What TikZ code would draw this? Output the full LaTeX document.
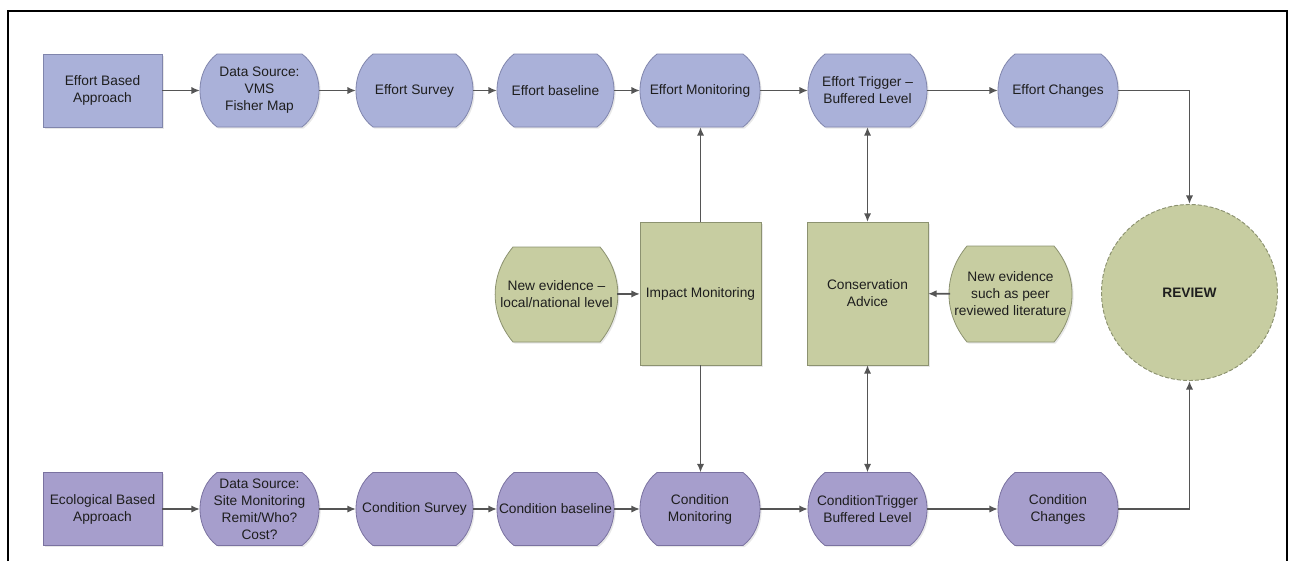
\documentclass[tikz,border=0pt]{standalone}
\usepackage{fontspec}
\setmainfont{Liberation Sans}
\usetikzlibrary{arrows.meta,backgrounds,calc,shadows}
\definecolor{topfill}{RGB}{170,177,217}
\definecolor{topline}{RGB}{128,133,172}
\definecolor{botfill}{RGB}{166,158,204}
\definecolor{botline}{RGB}{122,114,160}
\definecolor{grnfill}{RGB}{199,205,161}
\definecolor{grnline}{RGB}{140,146,112}
\definecolor{connc}{RGB}{85,85,85}
\definecolor{txtc}{RGB}{30,30,30}
\newcommand{\pillbg}[5]{%
  \path[fill=#2,draw=#3,line width=0.6pt,line join=round,drop shadow={opacity=0.18,shadow xshift=1.2pt,shadow yshift=-1.2pt}]
    ([xshift=#4*0.75pt]#1.north west) -- ([xshift=-#4*0.75pt]#1.north east)
    to[bend left=#5] ([xshift=-#4*0.75pt]#1.south east)
    -- ([xshift=#4*0.75pt]#1.south west)
    to[bend left=#5] ([xshift=#4*0.75pt]#1.north west) -- cycle;}
\begin{document}
\begin{tikzpicture}[x=0.75pt,y=-0.75pt,
  font=\fontsize{10.3}{12.75}\selectfont,
  box/.style={minimum height=54.75pt,inner sep=1pt,outer sep=0pt,align=center,text=txtc},
  rectt/.style={box,fill=topfill,draw=topline,line width=0.6pt,drop shadow={opacity=0.18,shadow xshift=1.2pt,shadow yshift=-1.2pt}},
  rectb/.style={box,fill=botfill,draw=botline,line width=0.6pt,drop shadow={opacity=0.18,shadow xshift=1.2pt,shadow yshift=-1.2pt}},
  rectg/.style={box,fill=grnfill,draw=grnline,line width=0.6pt,drop shadow={opacity=0.18,shadow xshift=1.2pt,shadow yshift=-1.2pt}},
  pill/.style={box},
  conn/.style={draw=connc,line width=1.3pt,-{Latex[length=6.5pt,width=5.5pt]}},
  dconn/.style={draw=connc,line width=1.3pt,{Latex[length=6.5pt,width=5.5pt]}-{Latex[length=6.5pt,width=5.5pt]}}
]
\useasboundingbox (0,0) rectangle (1293,561);
% frame
\draw[line width=1.5pt] (8,561) -- (8,11) -- (1287,11) -- (1287,561);

% top row
\node[rectt,minimum width=89.25pt] (e1) at (102.5,90.5) {Effort Based\\Approach};
\node[pill,minimum width=89.25pt] (e2) at (259.5,90.5) {Data Source:\\VMS\\Fisher Map};
\node[pill,minimum width=87.75pt] (e3) at (414.5,90.5) {Effort Survey};
\node[pill,minimum width=87.75pt] (e4) at (555.5,90.5) {Effort baseline};
\node[pill,minimum width=90pt] (e5) at (700,90.5) {Effort Monitoring};
\node[pill,minimum width=89.25pt] (e6) at (867.5,90.5) {Effort Trigger –\\Buffered Level};
\node[pill,minimum width=90pt] (e7) at (1058,90.5) {Effort Changes};

% bottom row
\node[rectb,minimum width=89.25pt] (c1) at (102.5,509) {Ecological Based\\Approach};
\node[pill,minimum width=89.25pt] (c2) at (259.5,509) {Data Source:\\Site Monitoring\\Remit/Who?\\Cost?};
\node[pill,minimum width=87.75pt] (c3) at (414.5,509) {Condition Survey};
\node[pill,minimum width=87.75pt] (c4) at (555.5,509) {Condition baseline};
\node[pill,minimum width=90pt] (c5) at (700,509) {Condition\\Monitoring};
\node[pill,minimum width=89.25pt] (c6) at (867.5,509) {ConditionTrigger\\Buffered Level};
\node[pill,minimum width=90pt] (c7) at (1058,509) {Condition\\Changes};

% middle
\node[pill,minimum width=90.75pt,minimum height=71.25pt] (nel) at (556.5,294.5) {New evidence –\\local/national level};
\node[rectg,minimum width=90.75pt,minimum height=107.25pt] (im) at (700.5,293.5) {Impact Monitoring};
\node[rectg,minimum width=90.75pt,minimum height=107.25pt] (ca) at (867.5,293.5) {Conservation\\Advice};
\node[pill,minimum width=90.75pt,minimum height=72pt] (ner) at (1010.5,294) {New evidence\\such as peer\\reviewed literature};
\node[circle,fill=grnfill,draw=grnline,line width=0.7pt,dash pattern=on 3pt off 1.5pt,minimum size=132pt,inner sep=0pt,text=txtc] (rev) at (1189.5,292.5) {\bfseries REVIEW};

\begin{scope}[on background layer]
  \pillbg{e2}{topfill}{topline}{17}{53}
  \pillbg{e3}{topfill}{topline}{17}{53}
  \pillbg{e4}{topfill}{topline}{17}{53}
  \pillbg{e5}{topfill}{topline}{17}{53}
  \pillbg{e6}{topfill}{topline}{17}{53}
  \pillbg{e7}{topfill}{topline}{17}{53}
  \pillbg{c2}{botfill}{botline}{17}{53}
  \pillbg{c3}{botfill}{botline}{17}{53}
  \pillbg{c4}{botfill}{botline}{17}{53}
  \pillbg{c5}{botfill}{botline}{17}{53}
  \pillbg{c6}{botfill}{botline}{17}{53}
  \pillbg{c7}{botfill}{botline}{17}{53}
  \pillbg{nel}{grnfill}{grnline}{17}{40}
  \pillbg{ner}{grnfill}{grnline}{17}{40}
\end{scope}

% connectors top
\draw[conn] (e1) -- (e2);
\draw[conn] (e2) -- (e3);
\draw[conn] (e3) -- (e4);
\draw[conn] (e4) -- (e5);
\draw[conn] (e5) -- (e6);
\draw[conn] (e6) -- (e7);
\draw[conn] (e7.east) -| (rev.north);
% connectors bottom
\draw[conn] (c1) -- (c2);
\draw[conn] (c2) -- (c3);
\draw[conn] (c3) -- (c4);
\draw[conn] (c4) -- (c5);
\draw[conn] (c5) -- (c6);
\draw[conn] (c6) -- (c7);
\draw[conn] (c7.east) -| (rev.south);
% middle
\draw[conn] (im.north) -- (im.north |- e5.south);
\draw[conn] (im.south) -- (im.south |- c5.north);
\draw[dconn] (ca.north) -- (e6.south);
\draw[dconn] (ca.south) -- (c6.north);
\draw[conn] (nel) -- (im);
\draw[conn] (ner) -- (ca);
\end{tikzpicture}
\end{document}
